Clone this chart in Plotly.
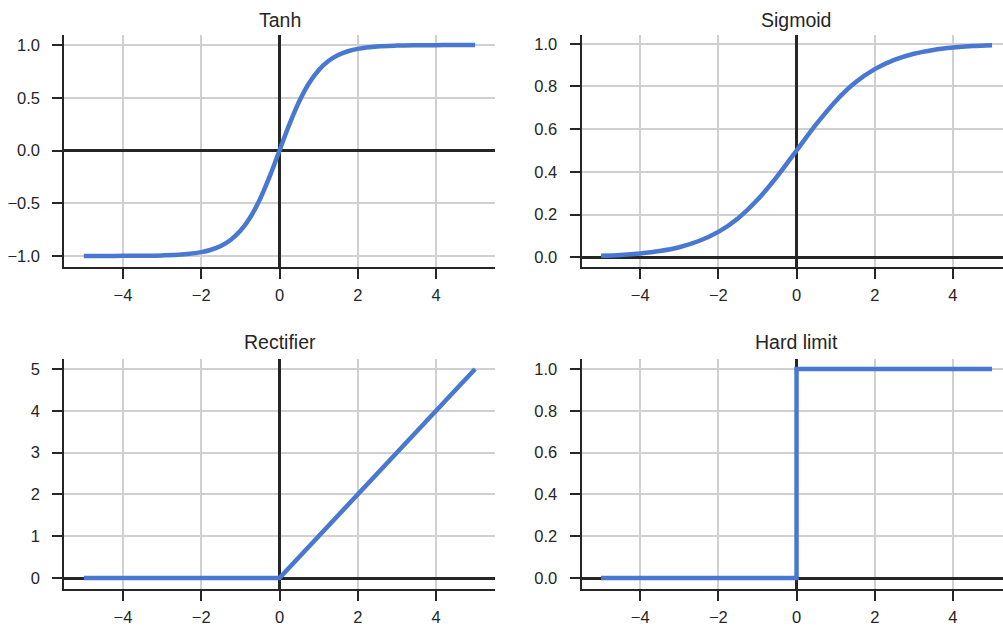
import plotly.graph_objects as go

# ---- data -----------------------------------------------------------------
tanh_x = [-5.0, -4.5, -4.0, -3.5, -3.0, -2.5, -2.0, -1.75, -1.5, -1.25, -1.0,
          -0.75, -0.5, -0.25, 0.0, 0.25, 0.5, 0.75, 1.0, 1.25, 1.5, 1.75, 2.0,
          2.5, 3.0, 3.5, 4.0, 4.5, 5.0]
tanh_y = [-1.0, -1.0, -0.999, -0.998, -0.995, -0.987, -0.964, -0.941, -0.905,
          -0.848, -0.762, -0.635, -0.462, -0.245, 0.0, 0.245, 0.462, 0.635,
          0.762, 0.848, 0.905, 0.941, 0.964, 0.987, 0.995, 0.998, 0.999, 1.0, 1.0]

sigmoid_x = [-5.0, -4.5, -4.0, -3.5, -3.0, -2.5, -2.0, -1.5, -1.0, -0.5, 0.0,
             0.5, 1.0, 1.5, 2.0, 2.5, 3.0, 3.5, 4.0, 4.5, 5.0]
sigmoid_y = [0.007, 0.011, 0.018, 0.029, 0.047, 0.076, 0.119, 0.182, 0.269,
             0.378, 0.5, 0.622, 0.731, 0.818, 0.881, 0.924, 0.953, 0.971,
             0.982, 0.989, 0.993]

relu_x = [-5.0, 0.0, 5.0]
relu_y = [0.0, 0.0, 5.0]

step_x = [-5.0, 0.0, 0.0, 5.0]
step_y = [0.0, 0.0, 1.0, 1.0]

titles = ["Tanh", "Sigmoid", "Rectifier", "Hard limit"]

# ---- styling ----------------------------------------------------------------
W, H = 1003, 627
FONT = "Liberation Sans, Arial, sans-serif"
DARK = "#262626"
GRID = "#d0d0d0"
BLUE = "#4878cf"


def px_x(a, b):
    return [a / W, b / W]


def px_y(top, bottom):
    return [(H - bottom) / H, (H - top) / H]


# panel boxes in pixels (left, right, top, bottom); the right column runs
# past the page edge, so its x range is cut at the border
x_left = px_x(64.3, 494.7)
x_right = px_x(581.5, 1003)
y_top = px_y(34.5, 266.5)
y_bot = px_y(358.5, 588.5)
title_x = [(64.3 + 494.7) / 2 / W, (581.5 + 1010.5) / 2 / W]
title_y = [(H - 20) / H, (H - 342) / H]

common = dict(
    showline=True, linecolor=DARK, linewidth=2,
    ticks="outside", ticklen=10, tickwidth=2, tickcolor=DARK,
    showgrid=True, gridcolor=GRID, gridwidth=1.5,
    zeroline=True, zerolinecolor=DARK, zerolinewidth=2.6,
    tickfont=dict(family=FONT, size=16.5, color=DARK),
    mirror=False, automargin=False,
)

fig = go.Figure()
series = [(tanh_x, tanh_y), (sigmoid_x, sigmoid_y),
          (relu_x, relu_y), (step_x, step_y)]
for i, (xs, ys) in enumerate(series):
    suffix = "" if i == 0 else str(i + 1)
    fig.add_trace(go.Scatter(
        x=xs, y=ys, mode="lines",
        line=dict(color=BLUE, width=4.5, shape="spline" if i < 2 else "linear"),
        xaxis="x" + suffix, yaxis="y" + suffix, showlegend=False,
        hoverinfo="skip",
    ))

layout = dict(
    width=W, height=H,
    margin=dict(l=0, r=0, t=0, b=0, autoexpand=False),
    paper_bgcolor="white", plot_bgcolor="white",
    font=dict(family=FONT, color=DARK),
    showlegend=False,
)

axes = [
    (x_left, y_top, [-5.5, 5.5], [-1.1, 1.1], 0.5, ".1f"),
    (x_right, y_top, [-5.5, 5.28], [-0.0433, 1.0433], 0.2, ".1f"),
    (x_left, y_bot, [-5.5, 5.5], [-0.25, 5.25], 1, "d"),
    (x_right, y_bot, [-5.5, 5.28], [-0.05, 1.05], 0.2, ".1f"),
]
for i, (xd, yd, xr, yr, ydt, yfmt) in enumerate(axes):
    n = "" if i == 0 else str(i + 1)
    layout["xaxis" + n] = dict(common, domain=xd, range=xr, dtick=2, tick0=0,
                               anchor="y" + n, ticklabelstandoff=3)
    layout["yaxis" + n] = dict(common, domain=yd, range=yr, dtick=ydt, tick0=0,
                               tickformat=yfmt, anchor="x" + n,
                               ticklabelstandoff=9)
    fig.add_annotation(
        text=titles[i], xref="paper", yref="paper",
        x=title_x[i % 2], y=title_y[i // 2],
        xanchor="center", yanchor="middle",
        showarrow=False, font=dict(family=FONT, size=19.5, color=DARK),
    )

fig.update_layout(**layout)
fig.write_html("out.html")
